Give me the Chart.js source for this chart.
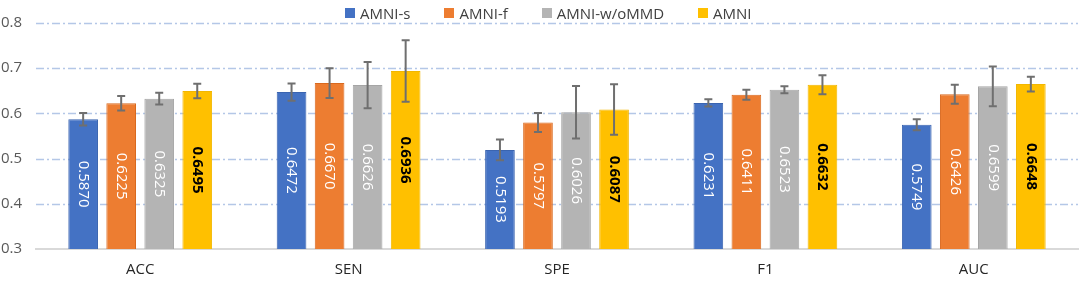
<!DOCTYPE html>
<html>
<head>
<meta charset="utf-8">
<script src="https://cdn.jsdelivr.net/npm/chart.js@4.4.1/dist/chart.umd.min.js"></script>
<style>
  html, body { margin: 0; padding: 0; background: #fff; }
  #wrap { position: relative; width: 1084px; height: 281px; }
  #legend { position: absolute; top: 3px; left: 345px; display: flex; align-items: center;
    font-family: "Open Sans", sans-serif; font-size: 15px; color: #404040; white-space: nowrap; }
  #legend .item { display: flex; align-items: center; margin-right: 34px; }
  #legend .box { width: 10px; height: 10px; margin-right: 5px; }
  canvas { position: absolute; left: 0; top: 0; }
</style>
</head>
<body>
<div id="wrap">
  <canvas id="c" width="1084" height="281"></canvas>
  <div id="legend"></div>
</div>
<script>
const categories = ["ACC", "SEN", "SPE", "F1", "AUC"];
const seriesNames = ["AMNI-s", "AMNI-f", "AMNI-w/oMMD", "AMNI"];
const amniS     = [0.5870, 0.6472, 0.5193, 0.6231, 0.5749];
const amniF     = [0.6225, 0.6670, 0.5797, 0.6411, 0.6426];
const amniWoMMD = [0.6325, 0.6626, 0.6026, 0.6523, 0.6599];
const amni      = [0.6495, 0.6936, 0.6087, 0.6632, 0.6648];
const errS      = [0.014, 0.019, 0.023, 0.008, 0.012];
const errF      = [0.016, 0.033, 0.021, 0.011, 0.021];
const errWoMMD  = [0.013, 0.051, 0.058, 0.0075, 0.044];
const errAmni   = [0.016, 0.068, 0.056, 0.021, 0.0165];
const yTicks    = [0.3, 0.4, 0.5, 0.6, 0.7, 0.8];

const fills   = ["#4472C4", "#ED7D31", "#B4B4B4", "#FFC000"];
const borders = ["#3A64B0", "#D9691F", "#A5A5A5", "#F2B700"];
const labelColors = ["#FFFFFF", "#FFFFFF", "#FFFFFF", "#000000"];
const labelWeights = ["normal", "normal", "normal", "bold"];
const values = [amniS, amniF, amniWoMMD, amni];
const errors = [errS, errF, errWoMMD, errAmni];

// HTML legend
const legendEl = document.getElementById('legend');
seriesNames.forEach((n, i) => {
  const it = document.createElement('div'); it.className = 'item';
  const b = document.createElement('div'); b.className = 'box'; b.style.background = fills[i];
  const t = document.createElement('span'); t.textContent = n;
  it.appendChild(b); it.appendChild(t); legendEl.appendChild(it);
});

const gridPlugin = {
  id: 'dashGrid',
  beforeDatasetsDraw(chart) {
    const ctx = chart.ctx, y = chart.scales.y, a = chart.chartArea;
    ctx.save();
    ctx.strokeStyle = '#B4C7E7';
    ctx.lineWidth = 1.5;
    ctx.setLineDash([8, 3, 2, 3]);
    yTicks.forEach(v => {
      if (v <= 0.3001) return;
      const py = Math.round(y.getPixelForValue(v)) + 0.5;
      ctx.beginPath(); ctx.moveTo(a.left, py); ctx.lineTo(a.right, py); ctx.stroke();
    });
    ctx.restore();
  }
};

const errorBarPlugin = {
  id: 'errorBars',
  afterDatasetsDraw(chart) {
    const ctx = chart.ctx, y = chart.scales.y;
    chart.data.datasets.forEach((ds, di) => {
      const meta = chart.getDatasetMeta(di);
      meta.data.forEach((bar, i) => {
        const v = ds.data[i], e = ds.errors[i];
        const top = y.getPixelForValue(v + e), bot = y.getPixelForValue(v - e);
        const x = bar.x;
        ctx.save();
        ctx.strokeStyle = '#6F6F6F';
        ctx.lineWidth = 2;
        ctx.beginPath();
        ctx.moveTo(x, top); ctx.lineTo(x, bot);
        ctx.moveTo(x - 4, top); ctx.lineTo(x + 4, top);
        ctx.moveTo(x - 4, bot); ctx.lineTo(x + 4, bot);
        ctx.stroke();
        ctx.restore();
      });
    });
  }
};

const dataLabelPlugin = {
  id: 'barLabels',
  afterDatasetsDraw(chart) {
    const ctx = chart.ctx, a = chart.chartArea;
    chart.data.datasets.forEach((ds, di) => {
      const meta = chart.getDatasetMeta(di);
      meta.data.forEach((bar, i) => {
        const v = ds.data[i];
        const cy = (bar.y + a.bottom) / 2;
        ctx.save();
        ctx.translate(bar.x, cy);
        ctx.rotate(Math.PI / 2);
        ctx.font = labelWeights[di] + ' 15px "Open Sans", sans-serif';
        ctx.fillStyle = labelColors[di];
        ctx.textAlign = 'center';
        ctx.textBaseline = 'middle';
        ctx.fillText(v.toFixed(4), 0, 0);
        ctx.restore();
      });
    });
  }
};

new Chart(document.getElementById('c'), {
  type: 'bar',
  data: {
    labels: categories,
    datasets: seriesNames.map((n, i) => ({
      label: n,
      data: values[i],
      errors: errors[i],
      backgroundColor: fills[i],
      borderColor: borders[i],
      borderWidth: 1,
      categoryPercentage: 0.73,
      barPercentage: 0.78
    }))
  },
  options: {
    responsive: false,
    animation: false,
    layout: { padding: { top: 22, right: 6, bottom: 0, left: 0 } },
    plugins: { legend: { display: false }, tooltip: { enabled: false } },
    scales: {
      x: {
        afterFit(scale) { scale.height = 32; },
        grid: { display: false, drawTicks: false },
        border: { display: true, color: '#D9D9D9', width: 2 },
        ticks: { padding: 12, color: '#262626', font: { family: 'Open Sans', size: 15 } }
      },
      y: {
        min: 0.3, max: 0.8,
        afterBuildTicks(scale) { scale.ticks = yTicks.map(v => ({ value: v })); },
        afterFit(scale) { scale.width = 36; },
        grid: { display: false, drawTicks: false },
        border: { display: false },
        ticks: {
          padding: 14, color: '#595959',
          font: { family: 'Open Sans', size: 15 },
          callback: (v) => Number(v).toFixed(1)
        }
      }
    }
  },
  plugins: [gridPlugin, errorBarPlugin, dataLabelPlugin]
});
</script>
</body>
</html>
